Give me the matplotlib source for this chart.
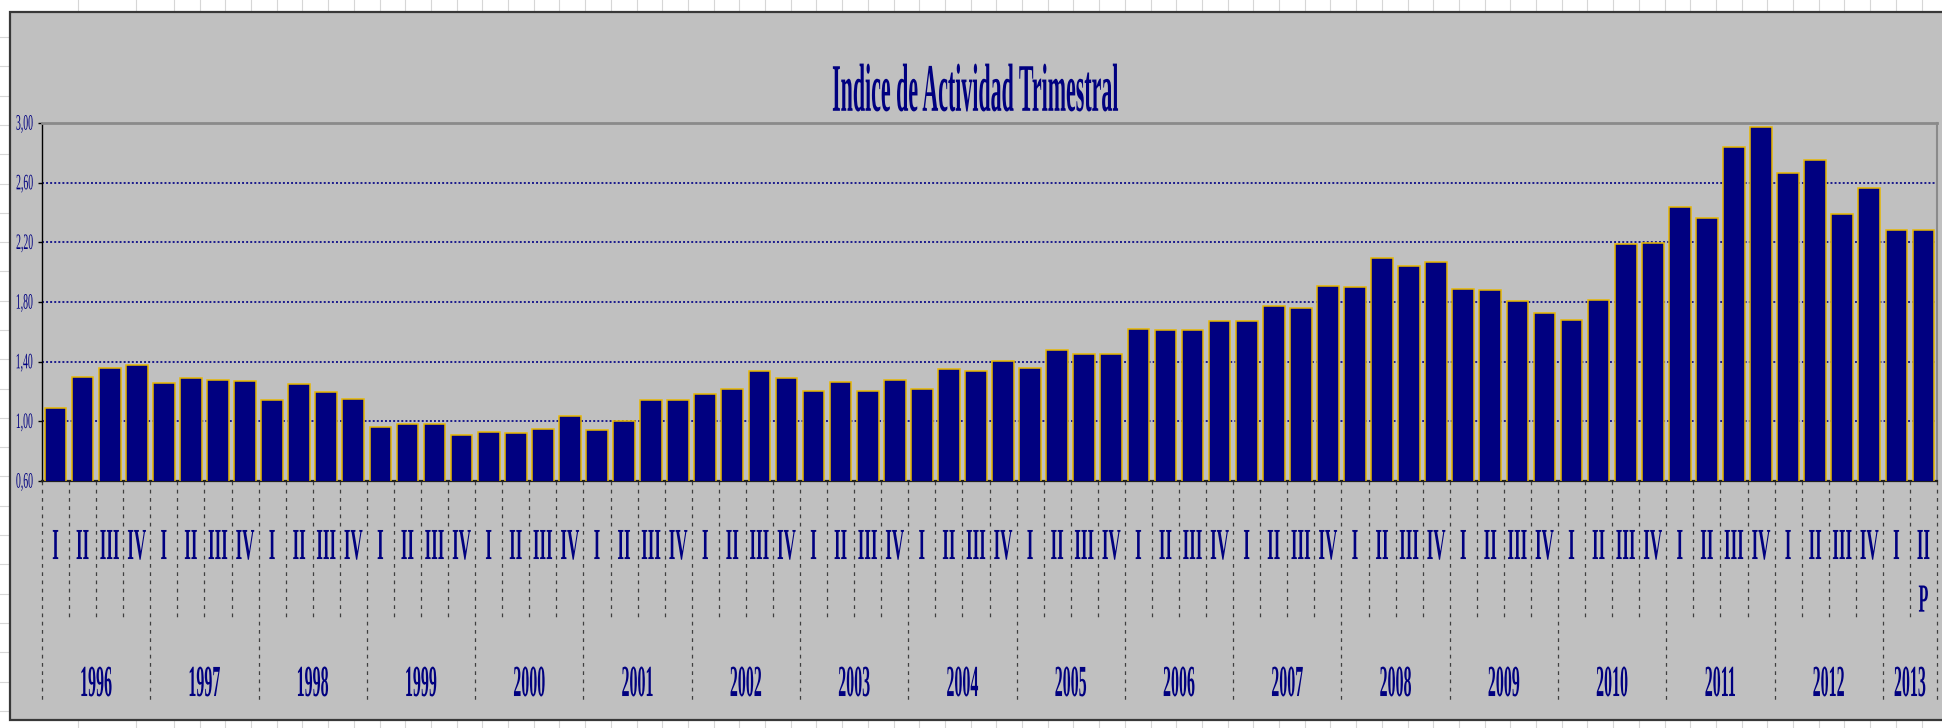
import numpy as np
import matplotlib
matplotlib.use("Agg")
import matplotlib.pyplot as plt
from matplotlib.patheffects import AbstractPathEffect
from matplotlib.transforms import Affine2D, blended_transform_factory
from matplotlib.patches import Rectangle
from matplotlib.lines import Line2D

# Chart data
title = "Indice de Actividad Trimestral"
years = ["1996", "1997", "1998", "1999", "2000", "2001", "2002", "2003", "2004",
         "2005", "2006", "2007", "2008", "2009", "2010", "2011", "2012", "2013"]
quarters = ["I", "II", "III", "IV"]
values = [1.09, 1.30, 1.36, 1.38,
          1.255, 1.29, 1.28, 1.27,
          1.14, 1.25, 1.20, 1.15,
          0.96, 0.98, 0.98, 0.91,
          0.93, 0.92, 0.95, 1.035,
          0.94, 1.00, 1.14, 1.14,
          1.18, 1.22, 1.34, 1.29,
          1.205, 1.265, 1.205, 1.275,
          1.22, 1.35, 1.34, 1.405,
          1.36, 1.475, 1.45, 1.45,
          1.62, 1.61, 1.61, 1.67,
          1.67, 1.775, 1.76, 1.91,
          1.90, 2.095, 2.04, 2.07,
          1.89, 1.88, 1.81, 1.725,
          1.68, 1.815, 2.19, 2.195,
          2.44, 2.36, 2.84, 2.975,
          2.665, 2.755, 2.39, 2.565,
          2.285, 2.285]
y_ticks = [0.60, 1.00, 1.40, 1.80, 2.20, 2.60, 3.00]
provisional = "P"

navy = "#000080"
grey = "#C0C0C0"
serif = "Liberation Serif"
W, H = 1942, 728


class Stretch(AbstractPathEffect):
    """Draw text taller, like the tall narrow Excel font."""
    def __init__(self, sy, anchor="baseline"):
        super().__init__()
        self.sy = sy
        self.anchor = anchor

    def draw_path(self, renderer, gc, tpath, affine, rgbFace=None):
        cy = 0
        if self.anchor == "middle":
            ext = tpath.get_extents()
            cy = (ext.y0 + ext.y1) / 2
        t = Affine2D().translate(0, -cy).scale(1, self.sy).translate(0, cy)
        renderer.draw_path(gc, tpath, t + affine, rgbFace)


fig = plt.figure(figsize=(W / 100, H / 100), dpi=100, facecolor="white")

# spreadsheet cell lines peeking around the chart
xs = [78, 136] + list(np.arange(174, W, 25.7))
for xp in xs:
    fig.add_artist(Line2D([xp / W, xp / W], [1, 1 - 12 / H], transform=fig.transFigure,
                          color="#d6d6d6", lw=0.8, zorder=-2))
    fig.add_artist(Line2D([xp / W, xp / W], [0, 8 / H], transform=fig.transFigure,
                          color="#d6d6d6", lw=0.8, zorder=-2))
for yp in np.arange(37, 720, 29.3):
    fig.add_artist(Line2D([0, 10 / W], [1 - yp / H, 1 - yp / H], transform=fig.transFigure,
                          color="#d6d6d6", lw=0.8, zorder=-2))

# chart area
fig.add_artist(Rectangle((10 / W, 8 / H), (W - 8) / W, (720 - 12) / H,
                         transform=fig.transFigure, facecolor=grey,
                         edgecolor="#383838", lw=1.6, zorder=-1))

ax = fig.add_axes([42 / W, 247 / H, 1895 / W, 358 / H])
ax.set_facecolor(grey)

x = np.arange(len(values))
ax.bar(x, values, width=0.8, color=navy, edgecolor="#E8B800", linewidth=1.1, zorder=3)

for v in y_ticks[1:-1]:
    ax.axhline(v, color="#1a1a8c", lw=1.4, ls=(0, (1, 1.1)), zorder=1)

ax.set_xlim(-0.5, len(values) - 0.5)
ax.set_ylim(0.6, 3.0)
ax.set_xticks([])
ax.set_yticks(y_ticks)
ax.set_yticklabels([f"{v:.2f}".replace(".", ",") for v in y_ticks])
ax.tick_params(axis="y", length=3, width=1, pad=3.5, color="black")
for lbl in ax.get_yticklabels():
    lbl.set_fontfamily(serif)
    lbl.set_fontsize(7.0)
    lbl.set_color(navy)
    lbl.set_path_effects([Stretch(2.27, "middle")])

ax.spines["left"].set_color("black")
ax.spines["left"].set_linewidth(1.0)
ax.spines["top"].set_color("#8a8a8a")
ax.spines["top"].set_linewidth(2.0)
ax.spines["right"].set_color("#8a8a8a")
ax.spines["right"].set_linewidth(1.5)
ax.spines["bottom"].set_color("#202020")
ax.spines["bottom"].set_linewidth(1.6)
ax.spines["bottom"].set_linestyle((0, (1, 1)))

# category axis: quarter and year labels with dashed separators
trans = blended_transform_factory(ax.transData, ax.transAxes)
year_starts = [4 * i for i in range(len(years))] + [len(values)]
for b in range(len(values) + 1):
    ybot = -0.612 if b in year_starts else -0.383
    ax.plot([b - 0.5, b - 0.5], [0, ybot], transform=trans, clip_on=False,
            color="#404040", lw=0.9, ls=(0, (3, 3.6)))

for i in range(len(values)):
    ax.text(i, -0.218, quarters[i % 4], transform=trans, ha="center", va="baseline",
            fontsize=12.2, family=serif, weight="bold", color=navy,
            path_effects=[Stretch(2.62)])

ax.text(len(values) - 1, -0.365, provisional, transform=trans, ha="center", va="baseline",
        fontsize=11.6, family=serif, weight="bold", color=navy,
        path_effects=[Stretch(2.48)])

for k, yr in enumerate(years):
    xc = (year_starts[k] + year_starts[k + 1] - 1) / 2
    ax.text(xc, -0.6006, yr, transform=trans, ha="center", va="baseline",
            fontsize=11.5, family=serif, weight="bold", color=navy,
            path_effects=[Stretch(2.78)])

fig.text(976 / W, 1 - 110.8 / H, title, ha="center", va="baseline",
         fontsize=15.8, family=serif, weight="bold", color=navy,
         path_effects=[Stretch(3.1)])

fig.savefig("out.png", dpi=100, facecolor="white")
